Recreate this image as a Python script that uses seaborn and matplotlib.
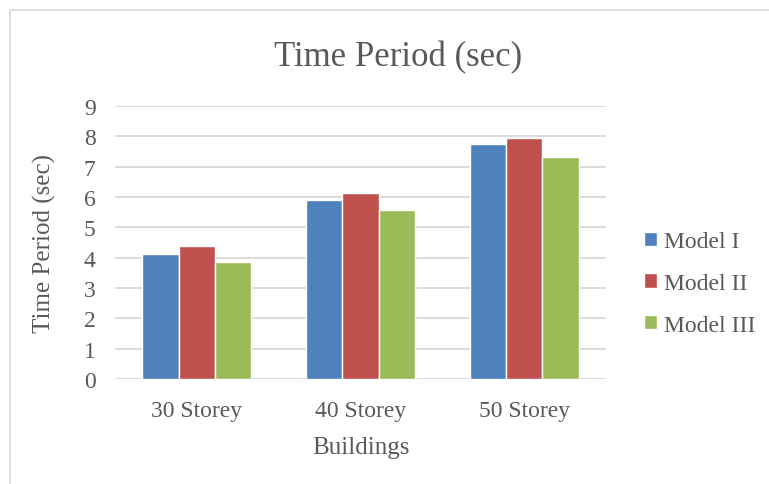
import numpy as np
import pandas as pd
import seaborn as sns
import matplotlib.pyplot as plt
from matplotlib.patches import Rectangle

buildings = ["30 Storey", "40 Storey", "50 Storey"]
models = ["Model I", "Model II", "Model III"]
model_1 = [4.13, 5.89, 7.76]
model_2 = [4.37, 6.12, 7.93]
model_3 = [3.87, 5.56, 7.32]

df = pd.DataFrame({
    "Buildings": buildings * 3,
    "Model": [m for m in models for _ in buildings],
    "Time": model_1 + model_2 + model_3,
})

sns.set_style("white")
plt.rcParams["font.family"] = ["Liberation Serif", "DejaVu Serif"]
txt = "#595959"

fig = plt.figure(figsize=(7.69, 4.85), dpi=100)
ax = fig.add_axes([0.1495, 0.2165, 0.6385, 0.563])

palette = ["#4F81BD", "#C0504D", "#9BBB59"]
sns.barplot(data=df, x="Buildings", y="Time", hue="Model", palette=palette,
            width=0.667, saturation=1, ax=ax, zorder=3)

ax.set_ylim(0, 9)
ax.set_yticks(range(0, 10))
ax.set_xlim(-0.5, 2.5)
ax.grid(axis="y", color="#D9D9D9", linewidth=1.3, zorder=0)
ax.set_axisbelow(True)
for s in ax.spines.values():
    s.set_visible(False)
ax.tick_params(axis="both", length=0, labelsize=17, colors=txt)
ax.tick_params(axis="x", pad=15)
ax.tick_params(axis="y", pad=14)
ax.set_xlabel("Buildings", fontsize=18, color=txt, labelpad=11)
ax.set_ylabel("Time Period (sec)", fontsize=18, color=txt, labelpad=20)
fig.text(0.517, 0.882, "Time Period (sec)", fontsize=25, color=txt,
         ha="center", va="center")

leg = ax.legend(loc="center left", bbox_to_anchor=(1.035, 0.35), frameon=False,
                fontsize=17, handlelength=0.55, handleheight=0.55,
                handletextpad=0.3, labelspacing=0.88)
for t in leg.get_texts():
    t.set_color(txt)

fig.add_artist(Rectangle((10 / 769, -0.1), 1.2, (485 - 11) / 485 + 0.1,
                         transform=fig.transFigure, fill=False,
                         edgecolor="#D9D9D9", linewidth=1.2))

fig.savefig("out.png", dpi=100)
